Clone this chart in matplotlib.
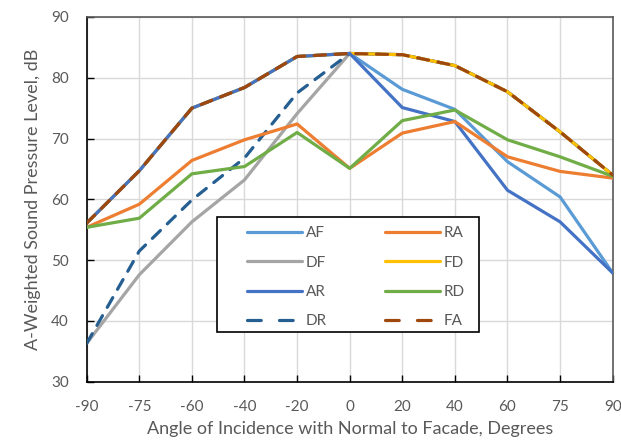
import matplotlib
matplotlib.use("Agg")
import matplotlib.pyplot as plt
from matplotlib.patches import Rectangle
from matplotlib.lines import Line2D

angles = ["-90", "-75", "-60", "-40", "-20", "0", "20", "40", "60", "75", "90"]
AF = [56.1, 64.7, 75.0, 78.4, 83.5, 84.0, 78.1, 74.8, 66.2, 60.4, 47.9]
DF = [36.3, 47.6, 56.3, 63.2, 74.1, 84.0, 83.8, 82.0, 77.7, 71.1, 64.0]
AR = [56.1, 64.7, 75.0, 78.4, 83.5, 84.0, 75.1, 72.8, 61.5, 56.3, 47.9]
DR = [36.3, 51.5, 59.9, 66.8, 77.5, 84.0, 83.8, 82.0, 77.7, 71.1, 64.0]
RA = [55.4, 59.2, 66.4, 69.8, 72.4, 65.1, 70.9, 72.8, 67.0, 64.6, 63.5]
FD = [56.1, 64.7, 75.0, 78.4, 83.5, 84.0, 83.8, 82.0, 77.7, 71.1, 64.0]
RD = [55.4, 56.9, 64.2, 65.4, 71.0, 65.1, 72.95, 74.7, 69.8, 67.0, 63.8]
FA = [56.1, 64.7, 75.0, 78.4, 83.5, 84.0, 83.8, 82.0, 77.7, 71.1, 64.0]

# name, values, colour, dashed, drawing layer
series = [
    ("AF", AF, "#5B9BD5", False, 2),
    ("DF", DF, "#A5A5A5", False, 2),
    ("AR", AR, "#4472C4", False, 5),
    ("DR", DR, "#255E91", True, 3),
    ("RA", RA, "#ED7D31", False, 6),
    ("FD", FD, "#FFC000", False, 4),
    ("RD", RD, "#70AD47", False, 7),
    ("FA", FA, "#9E480E", True, 8),
]

plt.rcParams['font.family'] = ['Lato', 'DejaVu Sans']
txt = "#595959"
LW = 2.3

fig = plt.figure(figsize=(6.21, 4.47), dpi=100)
ax = fig.add_axes([0.1396, 0.146, 0.847, 0.816])

x = list(range(len(angles)))
handles = []
for name, vals, col, dashed, z in series:
    if dashed:
        ax.plot(x, vals, color=col, lw=LW, dashes=(3.5, 3.0),
                dash_capstyle='round', dash_joinstyle='round', zorder=z)
        handles.append(Line2D([], [], color=col, lw=LW, dashes=(4.3, 5.7),
                              dash_capstyle='round', label=name))
    else:
        ax.plot(x, vals, color=col, lw=LW,
                solid_capstyle='round', solid_joinstyle='round', zorder=z)
        handles.append(Line2D([], [], color=col, lw=LW,
                              solid_capstyle='round', label=name))

ax.set_xlim(0, len(angles) - 1)
ax.set_ylim(30, 90)
ax.set_xticks(x)
ax.set_xticklabels(angles)
ax.set_yticks(range(30, 91, 10))
ax.grid(True, color="#D9D9D9", lw=1.0)
ax.set_axisbelow(True)
ax.tick_params(direction='in', length=5, width=1, colors='black',
               labelcolor=txt, labelsize=11, pad=13)
for s in ['left', 'bottom']:
    ax.spines[s].set_color('black')
    ax.spines[s].set_linewidth(1.2)
for s in ['top', 'right']:
    ax.spines[s].set_color('#595959')
    ax.spines[s].set_linewidth(1.2)

ax.set_xlabel("Angle of Incidence with Normal to Facade, Degrees", color=txt, fontsize=13, labelpad=5)
ax.set_ylabel("A-Weighted Sound Pressure Level, dB", color=txt, fontsize=13, labelpad=7)

# legend frame
ax.add_patch(Rectangle((0.2477, 0.1363), 0.498, 0.3153, transform=ax.transAxes,
                       facecolor='white', edgecolor='black', lw=1.2, zorder=9))
leg = ax.legend(handles=handles, ncol=2, loc='upper left',
                bbox_to_anchor=(0.3048, 0.0, 0.4144, 0.4258),
                mode='expand', fontsize=11, frameon=False,
                handlelength=3.6, handletextpad=0.26, labelspacing=1.0,
                borderpad=0.0, borderaxespad=0.0, labelcolor=txt)
leg.set_zorder(10)

fig.savefig("out.png", dpi=100)
